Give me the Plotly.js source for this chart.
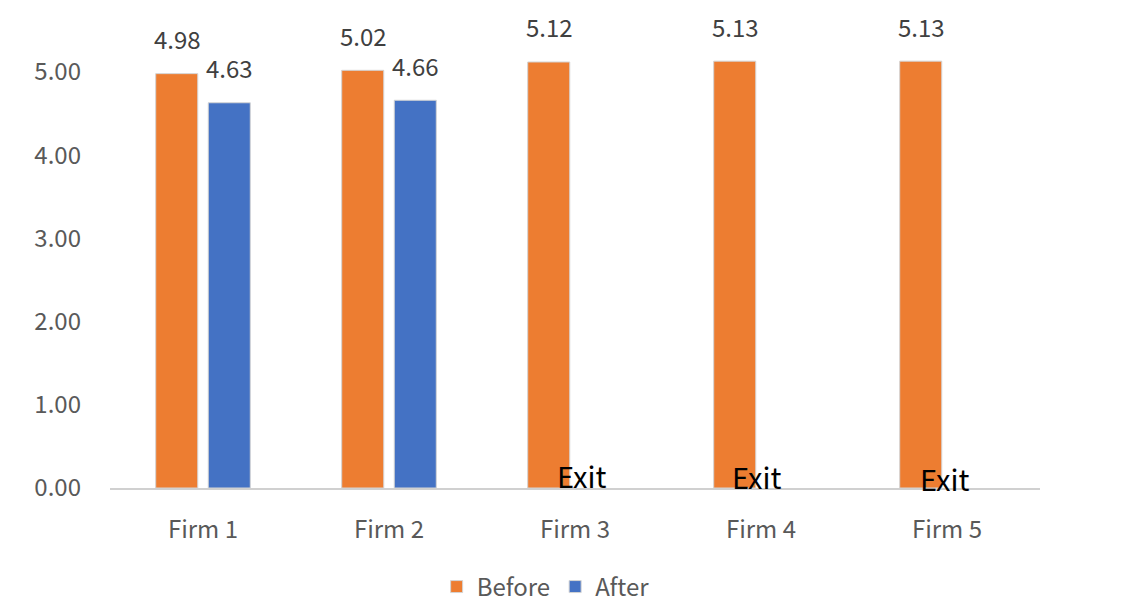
<!DOCTYPE html>
<html><head><meta charset="utf-8">
<script src="https://cdn.plot.ly/plotly-3.0.1.min.js"></script>
<style>html,body{margin:0;padding:0;background:#fff}#chart{width:1125px;height:607px}</style>
</head><body><div id="chart"></div>
<script>
const firms = ["Firm 1", "Firm 2", "Firm 3", "Firm 4", "Firm 5"];
const before = [4.98, 5.02, 5.12, 5.13, 5.13];
const after = [4.63, 4.66, null, null, null];
const exitLabel = "Exit";
const yTicks = [0, 1, 2, 3, 4, 5];

const FONT = '"Noto Sans CJK KR", "Noto Sans", sans-serif';
const orange = '#ED7D31', blue = '#4472C4';

const traces = [
  {type: 'bar', name: 'Before', x: firms, y: before, marker: {color: orange, line: {color: '#d4d4d4', width: 1}}, hoverinfo: 'none'},
  {type: 'bar', name: 'After', x: firms, y: after, marker: {color: blue, line: {color: '#d4d4d4', width: 1}}, hoverinfo: 'none'}
];

const annotations = [];
before.forEach((v, i) => {
  annotations.push({x: firms[i], y: v, xref: 'x', yref: 'y', text: v.toFixed(2), showarrow: false,
    xshift: -26, yshift: 35, yanchor: 'middle', font: {family: FONT, size: 24, color: '#404040'}});
});
after.forEach((v, i) => {
  if (v === null) {
    const xs = [0, 0, 7, -4, -2][i];
    const ys = [0, 0, 0, -1, -3][i];
    annotations.push({x: firms[i], y: 0, xref: 'x', yref: 'y', text: exitLabel, showarrow: false,
      xshift: xs, yshift: 13 + ys, yanchor: 'middle', font: {family: FONT, size: 29, color: '#000'}});
  } else {
    annotations.push({x: firms[i], y: v, xref: 'x', yref: 'y', text: v.toFixed(2), showarrow: false,
      xshift: 26, yshift: 35, yanchor: 'middle', font: {family: FONT, size: 24, color: '#404040'}});
  }
});

const layout = {
  width: 1125, height: 607,
  margin: {l: 110, r: 85, t: 0, b: 119, autoexpand: false},
  paper_bgcolor: '#fff', plot_bgcolor: '#fff',
  barmode: 'group', bargap: 0.435, bargroupgap: 0.2,
  showlegend: true,
  legend: {orientation: 'h', xref: 'container', yref: 'container', x: 0.485, xanchor: 'center', y: 0.033, yanchor: 'middle',
    font: {family: FONT, size: 24, color: '#595959'}, itemwidth: 30, traceorder: 'normal'},
  xaxis: {type: 'category', showgrid: false, zeroline: false, showline: true, linecolor: '#d0d0d0', linewidth: 2,
    ticks: '', ticklabelstandoff: 19, tickfont: {family: FONT, size: 24, color: '#595959'}, fixedrange: true},
  yaxis: {range: [0, 5.865], showgrid: false, zeroline: false, showline: false, tickvals: yTicks,
    ticktext: yTicks.map(t => t.toFixed(2)), ticks: '', ticklabelstandoff: 28,
    tickfont: {family: FONT, size: 24, color: '#595959'}, fixedrange: true},
  annotations: annotations
};
traces.forEach(t => t.cliponaxis = false);
Plotly.newPlot('chart', traces, layout, {staticPlot: true});
</script></body></html>
